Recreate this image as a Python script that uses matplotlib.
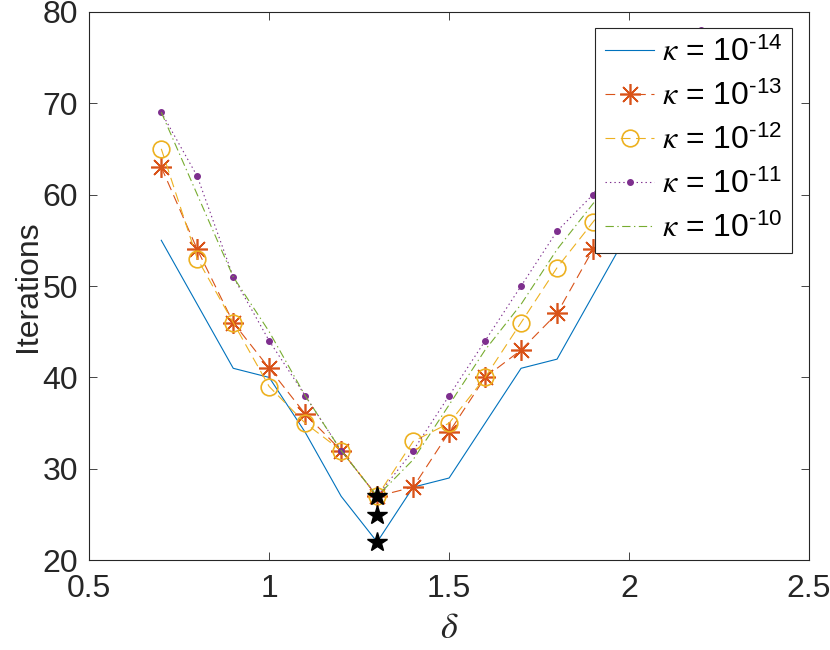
import matplotlib
matplotlib.use("Agg")
import matplotlib.pyplot as plt

plt.rcParams['font.family'] = ['Liberation Sans', 'DejaVu Sans']
plt.rcParams['mathtext.fontset'] = 'custom'
plt.rcParams['mathtext.rm'] = 'Liberation Sans'
plt.rcParams['mathtext.it'] = 'STIXGeneral:italic'
plt.rcParams['lines.scale_dashes'] = False

# delta values and iteration counts per kappa
delta = [0.7, 0.8, 0.9, 1.0, 1.1, 1.2, 1.3, 1.4, 1.5, 1.6, 1.7, 1.8, 1.9, 2.0, 2.1, 2.2]
it_k14 = [55, 48, 41, 40, 34, 27, 22, 28, 29, 35, 41, 42, 49, 56, 60, 64]
it_k13 = [63, 54, 46, 41, 36, 32, 27, 28, 34, 40, 43, 47, 54, 58, 62, 66]
it_k12 = [65, 53, 46, 39, 35, 32, 27, 33, 35, 40, 46, 52, 57, 62, 66, 70]
it_k11 = [69, 62, 51, 44, 38, 32, 27, 32, 38, 44, 50, 56, 60, 66, 72, 78]
it_k10 = [69, 60, 51, 45, 38, 32, 27, 31, 37, 43, 48, 54, 59, 64, 69, 74]

# minima marked with stars
min_delta = [1.3, 1.3, 1.3]
min_iters = [22, 25, 27]

labels = [r'$\kappa$ = 10$^{\text{-14}}$', r'$\kappa$ = 10$^{\text{-13}}$',
          r'$\kappa$ = 10$^{\text{-12}}$', r'$\kappa$ = 10$^{\text{-11}}$',
          r'$\kappa$ = 10$^{\text{-10}}$']

axcol = '#262626'

fig = plt.figure(figsize=(8.3, 6.5), dpi=100)
ax = fig.add_axes([0.1076, 0.138, 0.867, 0.844])

lw = 0.8
ax.plot(delta, it_k14, color='#0072BD', lw=lw, ls='-', label=labels[0])
ax.plot(delta, it_k13, color='#D95319', lw=lw, ls=(0, (7, 4)),
        marker=(8, 2, 0), ms=15, mew=1.2, label=labels[1])
ax.plot(delta, it_k12, color='#EDB120', lw=lw, ls=(0, (7, 4)),
        marker='o', ms=12, mfc='none', mew=1.2, label=labels[2])
ax.plot(delta, it_k11, color='#7E2F8E', lw=lw, ls=(0, (1, 2.2)),
        marker='.', ms=8, label=labels[3])
ax.plot(delta, it_k10, color='#77AC30', lw=lw, ls=(0, (6, 2.5, 1, 2.5)),
        label=labels[4])
ax.plot(min_delta, min_iters, ls='none', marker='*', ms=15, color='k', zorder=5)

ax.set_xlim(0.5, 2.5)
ax.set_ylim(20, 80)
ax.set_xticks([0.5, 1, 1.5, 2, 2.5])
ax.set_xticklabels(['0.5', '1', '1.5', '2', '2.5'])
ax.set_yticks(range(20, 81, 10))

ax.tick_params(direction='in', length=5.5, width=0.6, colors=axcol,
               labelsize=23, top=True, right=True)
ax.tick_params(axis='x', pad=10)
ax.tick_params(axis='y', pad=8)
for s in ax.spines.values():
    s.set_color(axcol)
    s.set_linewidth(0.8)

ax.set_xlabel(r'$\delta$', fontsize=26, color=axcol, labelpad=5)
ax.set_ylabel('Iterations', fontsize=23, color=axcol, labelpad=0)

leg = ax.legend(loc='upper right', bbox_to_anchor=(0.977, 0.971), fontsize=23,
                handlelength=1.55, handletextpad=0.25, borderpad=0.3,
                labelspacing=0.42, borderaxespad=0, numpoints=1,
                fancybox=False, framealpha=1)
leg.get_frame().set_edgecolor(axcol)
leg.get_frame().set_linewidth(0.8)

fig.savefig('out.png', dpi=100)
